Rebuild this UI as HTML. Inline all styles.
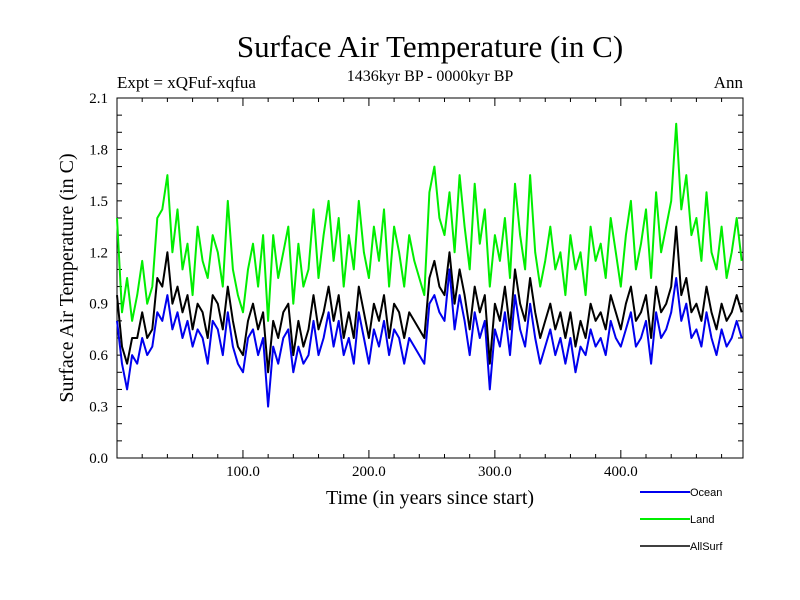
<!DOCTYPE html>
<html><head><meta charset="utf-8"><style>
body{margin:0;background:#fff}
svg{display:block}
text{font-family:"Liberation Serif",serif;fill:#000}
</style></head><body>
<svg id="chart" width="800" height="600">
<text x="430" y="57" font-size="31" text-anchor="middle">Surface Air Temperature (in C)</text>
<text x="117" y="88" font-size="17">Expt = xQFuf-xqfua</text>
<text x="430" y="81" font-size="16" text-anchor="middle">1436kyr BP - 0000kyr BP</text>
<text x="743" y="88" font-size="17" text-anchor="end">Ann</text>
<text transform="translate(73,278) rotate(-90)" font-size="20" text-anchor="middle">Surface Air Temperature (in C)</text>
<text x="430" y="504" font-size="20" text-anchor="middle">Time (in years since start)</text>
<g id="axes"></g>
<g id="series"></g>
<g id="legend"></g>
</svg>
<script>
const years0 = 0, yearStep = 4;
const landValues = [1.40,0.85,1.05,0.80,0.95,1.15,0.90,1.00,1.40,1.45,
1.65,1.20,1.45,1.10,1.25,0.95,1.35,1.15,1.05,1.30,
1.20,1.00,1.50,1.10,0.95,0.85,1.10,1.25,1.00,1.30,
0.80,1.30,1.05,1.20,1.35,0.90,1.25,1.00,1.10,1.45,
1.05,1.30,1.50,1.15,1.40,1.00,1.30,1.10,1.50,1.20,
1.05,1.35,1.15,1.45,1.00,1.35,1.20,1.00,1.30,1.15,
1.05,0.95,1.55,1.70,1.40,1.30,1.55,1.20,1.65,1.35,
1.10,1.60,1.25,1.45,1.00,1.30,1.15,1.40,1.05,1.60,
1.30,1.10,1.65,1.20,1.00,1.15,1.35,1.10,1.20,0.95,
1.30,1.10,1.20,0.95,1.35,1.15,1.25,1.05,1.40,1.20,
1.00,1.30,1.50,1.10,1.25,1.45,1.05,1.55,1.20,1.35,
1.50,1.95,1.45,1.65,1.30,1.40,1.15,1.55,1.20,1.10,
1.35,1.05,1.20,1.40,1.15];
const oceanValues = [0.80,0.55,0.40,0.60,0.55,0.70,0.60,0.65,0.85,0.80,
0.95,0.75,0.85,0.70,0.80,0.65,0.75,0.70,0.55,0.80,
0.75,0.60,0.85,0.65,0.55,0.50,0.70,0.75,0.60,0.70,
0.30,0.65,0.55,0.70,0.75,0.50,0.65,0.55,0.60,0.80,
0.60,0.70,0.85,0.65,0.80,0.60,0.70,0.55,0.85,0.70,
0.55,0.75,0.65,0.80,0.60,0.75,0.70,0.55,0.70,0.65,
0.60,0.55,0.90,0.95,0.85,0.80,1.10,0.75,0.95,0.80,
0.60,0.85,0.70,0.80,0.40,0.75,0.65,0.85,0.60,0.95,
0.75,0.65,0.90,0.70,0.55,0.65,0.75,0.60,0.70,0.55,
0.70,0.50,0.65,0.60,0.75,0.65,0.70,0.60,0.80,0.70,
0.65,0.75,0.85,0.65,0.70,0.80,0.55,0.85,0.70,0.75,
0.85,1.05,0.80,0.90,0.70,0.75,0.65,0.85,0.70,0.60,
0.75,0.65,0.70,0.80,0.70];
const allSurfValues = [0.95,0.65,0.55,0.70,0.70,0.85,0.70,0.75,1.05,1.00,
1.20,0.90,1.00,0.85,0.95,0.75,0.90,0.85,0.70,0.95,
0.90,0.75,1.00,0.80,0.65,0.60,0.80,0.90,0.75,0.85,
0.50,0.80,0.70,0.85,0.90,0.60,0.80,0.65,0.75,0.95,
0.75,0.85,1.00,0.80,0.95,0.70,0.85,0.70,1.00,0.85,
0.70,0.90,0.80,0.95,0.70,0.90,0.85,0.70,0.85,0.80,
0.75,0.70,1.05,1.15,1.00,0.95,1.20,0.90,1.10,0.95,
0.75,1.00,0.85,0.95,0.55,0.90,0.80,1.00,0.75,1.10,
0.90,0.80,1.05,0.85,0.70,0.80,0.90,0.75,0.85,0.70,
0.85,0.65,0.80,0.70,0.90,0.80,0.85,0.75,0.95,0.85,
0.75,0.90,1.00,0.80,0.85,0.95,0.70,1.00,0.85,0.90,
1.00,1.35,0.95,1.05,0.85,0.90,0.80,1.00,0.85,0.75,
0.90,0.80,0.85,0.95,0.85];
const yTickLabels = ["0.0","0.3","0.6","0.9","1.2","1.5","1.8","2.1"];
const xTickLabels = ["100.0","200.0","300.0","400.0"];
const legendLabels = ["Ocean","Land","AllSurf"];

const NS="http://www.w3.org/2000/svg";
const L=117,R=743,T=98,B=458,xMax=497,yMax=2.1;
const xs=v=>L+(v/xMax)*(R-L);
const ys=v=>B-(v/yMax)*(B-T);
function mk(tag,attrs,parent){const e=document.createElementNS(NS,tag);for(const k in attrs)e.setAttribute(k,attrs[k]);parent.appendChild(e);return e;}
const axes=document.getElementById('axes');
const frame=mk('rect',{x:L,y:T,width:R-L,height:B-T,fill:'none',stroke:'#000','stroke-width':1},axes);


for(let v=0;v<=2.1001;v+=0.1){
  const y=ys(v);
  const t1=mk('line',{x1:L,x2:L+5,y1:y,y2:y,stroke:'#000'},axes);
  
  
  const t2=mk('line',{x1:R,x2:R-5,y1:y,y2:y,stroke:'#000'},axes);
  
  
}
yTickLabels.forEach(s=>{
  const t=mk('text',{x:L-9,y:ys(parseFloat(s))+5,'font-size':15,'text-anchor':'end'},axes);
  t.textContent=s;
  
  
});
for(let v=20;v<xMax;v+=20){
  const x=xs(v),len=(v%100===0)?8:4;
  const t1=mk('line',{x1:x,x2:x,y1:B,y2:B-len,stroke:'#000'},axes);
  
  
  const t2=mk('line',{x1:x,x2:x,y1:T,y2:T+len,stroke:'#000'},axes);
  
  
}
xTickLabels.forEach(s=>{
  const t=mk('text',{x:xs(parseFloat(s)),y:B+18,'font-size':15,'text-anchor':'middle'},axes);
  t.textContent=s;
  
  
});
const series=document.getElementById('series');
function line(vals,color,w,name){
  const d=vals.map((v,i)=>(i?'L':'M')+xs(years0+i*yearStep).toFixed(1)+','+ys(v).toFixed(1)).join('');
  const p=mk('path',{d:d,fill:'none',stroke:color,'stroke-width':w,'stroke-linejoin':'round'},series);
  
  
}
line(landValues,'#00ee00',2,'land-line');
line(oceanValues,'#0000ee',2,'ocean-line');
line(allSurfValues,'#000',2,'allsurf-line');
const lg=document.getElementById('legend');
const lcol=['#0000ee','#00ee00','#000'];
legendLabels.forEach((s,i)=>{
  const y=492+i*27;
  const ln=mk('line',{x1:640,x2:690,y1:y,y2:y,stroke:lcol[i],'stroke-width':i==2?1.5:2},lg);
  
  
  const t=mk('text',{x:690,y:y+4,'font-size':11,style:'font-family:"Liberation Sans",sans-serif'},lg);
  t.textContent=s;
  
  
});
</script>
</body></html>
